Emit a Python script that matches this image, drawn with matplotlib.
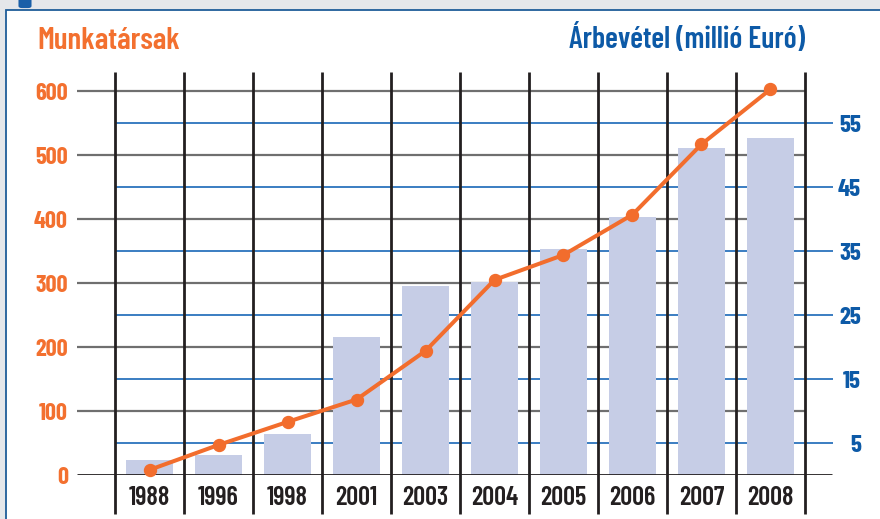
import numpy as np
import matplotlib.pyplot as plt
from matplotlib.patches import Rectangle, FancyBboxPatch

# data
years = ['1988', '1996', '1998', '2001', '2003', '2004', '2005', '2006', '2007', '2008']
employees = [8, 47, 83, 118, 194, 305, 344, 407, 517, 603]
revenue = [2.3, 3.1, 6.4, 21.6, 29.5, 30.2, 35.3, 40.3, 51.1, 52.7]
emp_ticks = [0, 100, 200, 300, 400, 500, 600]
rev_ticks = [5, 15, 25, 35, 45, 55]

orange = '#f26d2d'
orange_text = '#f3702f'
blue_text = '#0d5aa7'
blue_line = '#3a7dc2'
bar_color = '#c6cde6'
black = '#231f20'
gray_line = '#6f6f6f'

# condensed DIN-like face
plt.rcParams['font.family'] = ['Barlow Condensed', 'DejaVu Sans']
plt.rcParams['font.weight'] = 'semibold'

fig = plt.figure(figsize=(8.8, 5.19), dpi=100, facecolor='#e5e7ea')
# white panel with thin blue border
fig.add_artist(Rectangle((6 / 880, -0.02), 1.0, 509 / 519 + 0.02, transform=fig.transFigure,
                         facecolor='white', edgecolor='#1f5d99', lw=1.3, zorder=0))
fig.add_artist(FancyBboxPatch((22 / 880, 513 / 519), 6 / 880, 8 / 519, boxstyle='round,pad=0.004',
                              transform=fig.transFigure, facecolor='#1a5fa8', edgecolor='none', zorder=1))

x = np.arange(len(years))

# revenue axes (bars, right ticks)
ax = fig.add_axes([77 / 880, 44 / 519, 758 / 880, 403 / 519])
ax.patch.set_visible(False)
# employee axes (line, left ticks)
ax_e = ax.twinx()
ax_e.patch.set_visible(False)

ax.set_xlim(-1.051, 9.935)
ax.set_ylim(0, 63)
ax_e.set_ylim(0, 630)

# horizontal lines for the employee scale, behind the bars
ax.hlines(emp_ticks[1:], -1.051, len(years) - 0.5, transform=ax_e.transData,
          colors=gray_line, lw=1.6, zorder=1)
# blue lines for the revenue scale
ax.hlines(rev_ticks, -0.5, 9.9, colors=blue_line, lw=1.4, zorder=1)
ax.bar(x, revenue, width=0.69, color=bar_color, zorder=2)

ax_e.hlines(0, -1.051, 9.89, colors=black, lw=2, zorder=3)
ax_e.vlines(np.arange(len(years) + 1) - 0.5, -61, 630, colors=black, lw=2, clip_on=False, zorder=3)
ax_e.plot(x, employees, color=orange, lw=2.9, marker='o', ms=8.6, clip_on=False, zorder=5)

for a in (ax, ax_e):
    for s in a.spines.values():
        s.set_visible(False)

ax_e.set_yticks(emp_ticks)
ax_e.yaxis.tick_left()
ax_e.tick_params(axis='y', length=0, pad=6.5, labelcolor=orange_text, labelsize=17.5)
for lbl in ax_e.get_yticklabels():
    lbl.set_fontweight('bold')

ax.set_yticks(rev_ticks)
ax.yaxis.tick_right()
ax.tick_params(axis='y', length=0, pad=18.7, labelcolor=blue_text, labelsize=18)
for lbl in ax.get_yticklabels():
    lbl.set_horizontalalignment('right')
    lbl.set_fontweight('bold')

ax.set_xticks(x)
ax.set_xticklabels(years)
ax.tick_params(axis='x', length=0, pad=8, labelsize=19, labelcolor=black)

fig.text(37 / 880, 470 / 519, 'Munkatársak', color=orange_text, fontsize=22.5, va='baseline', ha='left')
fig.text(805 / 880, 471 / 519, 'Árbevétel (millió Euró)', color=blue_text, fontsize=21.5,
         va='baseline', ha='right')

fig.savefig('out.png', dpi=100, facecolor=fig.get_facecolor())
